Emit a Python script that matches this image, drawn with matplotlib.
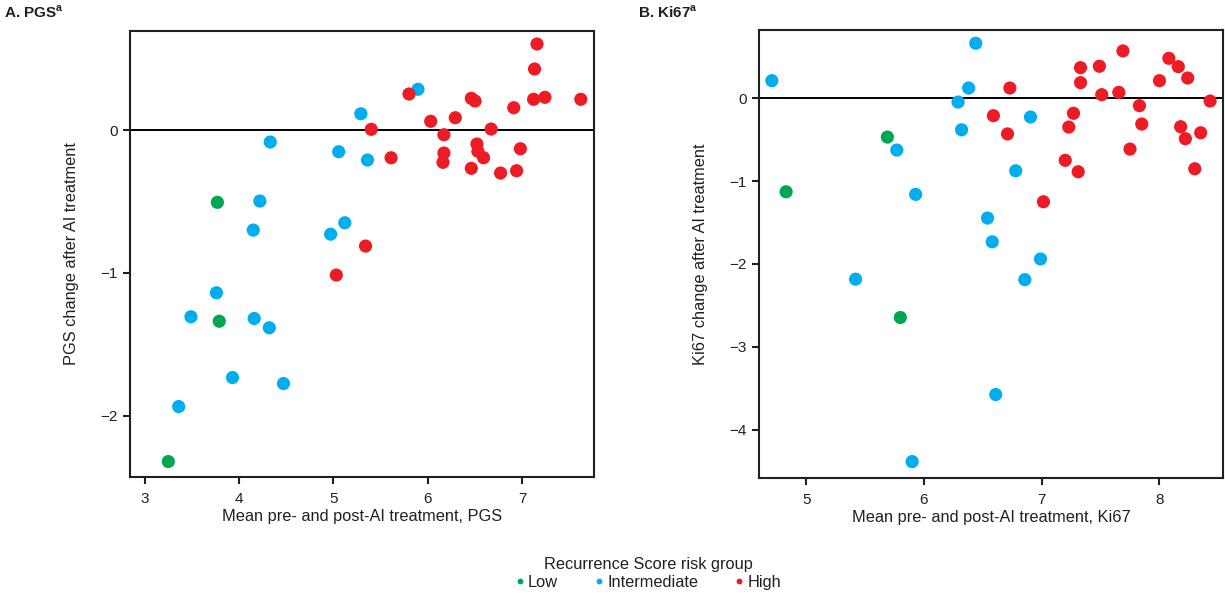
import matplotlib
matplotlib.use("Agg")
import matplotlib.pyplot as plt
from matplotlib.lines import Line2D

plt.rcParams['font.family'] = ['Liberation Sans', 'DejaVu Sans']
plt.rcParams['mathtext.fontset'] = 'custom'
plt.rcParams['mathtext.rm'] = 'Liberation Sans'
plt.rcParams['mathtext.bf'] = 'Liberation Sans:bold'

# Colours for each Recurrence Score risk group
groups = ["Low", "Intermediate", "High"]
colors = {"Low": "#00a651", "Intermediate": "#00aeef", "High": "#ed1c24"}

# ---- Panel A: PGS ----
pgs_low_mean = [3.77, 3.79, 3.25]
pgs_low_change = [-0.506, -1.338, -2.32]

pgs_int_mean = [5.29, 4.33, 5.055, 5.36, 4.22, 4.15, 5.12, 4.97,
                3.76, 3.49, 4.16, 4.32, 3.93, 4.47, 3.36, 5.895]
pgs_int_change = [0.114, -0.084, -0.152, -0.21, -0.497, -0.70, -0.649, -0.729,
                  -1.139, -1.307, -1.319, -1.384, -1.732, -1.774, -1.935, 0.285]

pgs_high_mean = [5.40, 5.61, 5.34, 5.03, 7.156, 7.13, 5.80, 6.46, 6.50, 7.12,
                 7.24, 7.62, 6.91, 6.29, 6.03, 6.67, 6.17, 6.52, 6.98, 6.17,
                 6.53, 6.59, 6.16, 6.46, 6.77, 6.94]
pgs_high_change = [0.005, -0.194, -0.812, -1.015, 0.602, 0.427, 0.252, 0.222, 0.203, 0.215,
                   0.229, 0.215, 0.156, 0.086, 0.061, 0.007, -0.033, -0.098, -0.131, -0.161,
                   -0.149, -0.194, -0.226, -0.268, -0.301, -0.285]

# ---- Panel B: Ki67 ----
ki_low_mean = [4.83, 5.69, 5.80]
ki_low_change = [-1.129, -0.468, -2.647]

ki_int_mean = [4.709, 5.77, 5.93, 6.29, 6.32, 6.44, 6.38, 6.905,
               6.78, 6.54, 6.58, 6.99, 5.42, 6.857, 6.61, 5.90]
ki_int_change = [0.213, -0.625, -1.16, -0.045, -0.38, 0.665, 0.124, -0.226,
                 -0.875, -1.446, -1.733, -1.94, -2.184, -2.19, -3.577, -4.387]

ki_high_mean = [6.73, 6.59, 6.71, 7.015, 7.33, 7.33, 7.49, 7.69, 7.51, 7.655,
                7.27, 7.23, 7.20, 7.31, 7.83, 7.85, 7.75, 8.00, 8.08, 8.16,
                8.24, 8.43, 8.18, 8.22, 8.35, 8.30]
ki_high_change = [0.124, -0.21, -0.43, -1.249, 0.37, 0.189, 0.387, 0.572, 0.044, 0.072,
                  -0.181, -0.347, -0.749, -0.887, -0.089, -0.311, -0.613, 0.213, 0.483, 0.382,
                  0.245, -0.033, -0.343, -0.488, -0.416, -0.851]

pgs_xticks = [3, 4, 5, 6, 7]
pgs_yticks = [-2, -1, 0]
ki_xticks = [5, 6, 7, 8]
ki_yticks = [-4, -3, -2, -1, 0]

fig = plt.figure(figsize=(12.25, 5.96), dpi=100)
ax1 = fig.add_axes([0.1061, 0.1997, 0.3788, 0.7483])
ax2 = fig.add_axes([0.6196, 0.1980, 0.3788, 0.7517])

spine_color = "#231f20"
text_color = "#231f20"


def style(ax, xticks, yticks, xlim, ylim, xlabel, ylabel):
    ax.axhline(0, color="black", lw=1.4, zorder=1)
    ax.set_xlim(*xlim)
    ax.set_ylim(*ylim)
    ax.set_xticks(xticks)
    ax.set_yticks(yticks)
    ax.set_yticklabels([f"\u2212{abs(t)}" if t < 0 else str(t) for t in yticks])
    for s in ax.spines.values():
        s.set_color(spine_color)
        s.set_linewidth(1.5)
    ax.tick_params(direction="out", length=5, width=1.5, color=spine_color,
                   labelsize=11, labelcolor=text_color)
    ax.tick_params(axis="x", pad=6)
    ax.tick_params(axis="y", pad=4)
    ax.set_xlabel(xlabel, fontsize=11.8, color=text_color, labelpad=2)
    ax.set_ylabel(ylabel, fontsize=11.8, color=text_color, labelpad=15)


def scatter(ax, data):
    for g, (xs, ys) in zip(groups, data):
        ax.scatter(xs, ys, s=90, color=colors[g], edgecolors="none", zorder=3)


scatter(ax1, [(pgs_low_mean, pgs_low_change),
              (pgs_int_mean, pgs_int_change),
              (pgs_high_mean, pgs_high_change)])
style(ax1, pgs_xticks, pgs_yticks, (2.844, 7.76), (-2.428, 0.693),
      "Mean pre- and post-AI treatment, PGS", "PGS change after AI treatment")

scatter(ax2, [(ki_low_mean, ki_low_change),
              (ki_int_mean, ki_int_change),
              (ki_high_mean, ki_high_change)])
style(ax2, ki_xticks, ki_yticks, (4.60, 8.54), (-4.585, 0.825),
      "Mean pre- and post-AI treatment, Ki67", "Ki67 change after AI treatment")

fig.text(0.003, 0.979, r"A. PGS$^{\mathbf{a}}$", fontsize=11, fontweight="bold",
         color=text_color, va="center", ha="left")
fig.text(0.521, 0.979, r"B. Ki67$^{\mathbf{a}}$", fontsize=11, fontweight="bold",
         color=text_color, va="center", ha="left")

handles = [Line2D([], [], marker="o", ls="none", markersize=4.2,
                  markerfacecolor=colors[g], markeredgecolor="none", label=g)
           for g in groups]
leg = fig.legend(handles=handles, loc="center", bbox_to_anchor=(0.529, 0.038),
                 ncol=3, frameon=False, fontsize=11.8, title="Recurrence Score risk group",
                 title_fontsize=11.8, handlelength=0.6, handletextpad=0.2,
                 columnspacing=2.2, borderaxespad=0, labelspacing=0.2)
for t in leg.get_texts():
    t.set_color(text_color)
leg.get_title().set_color(text_color)

fig.savefig("out.png", dpi=100)
